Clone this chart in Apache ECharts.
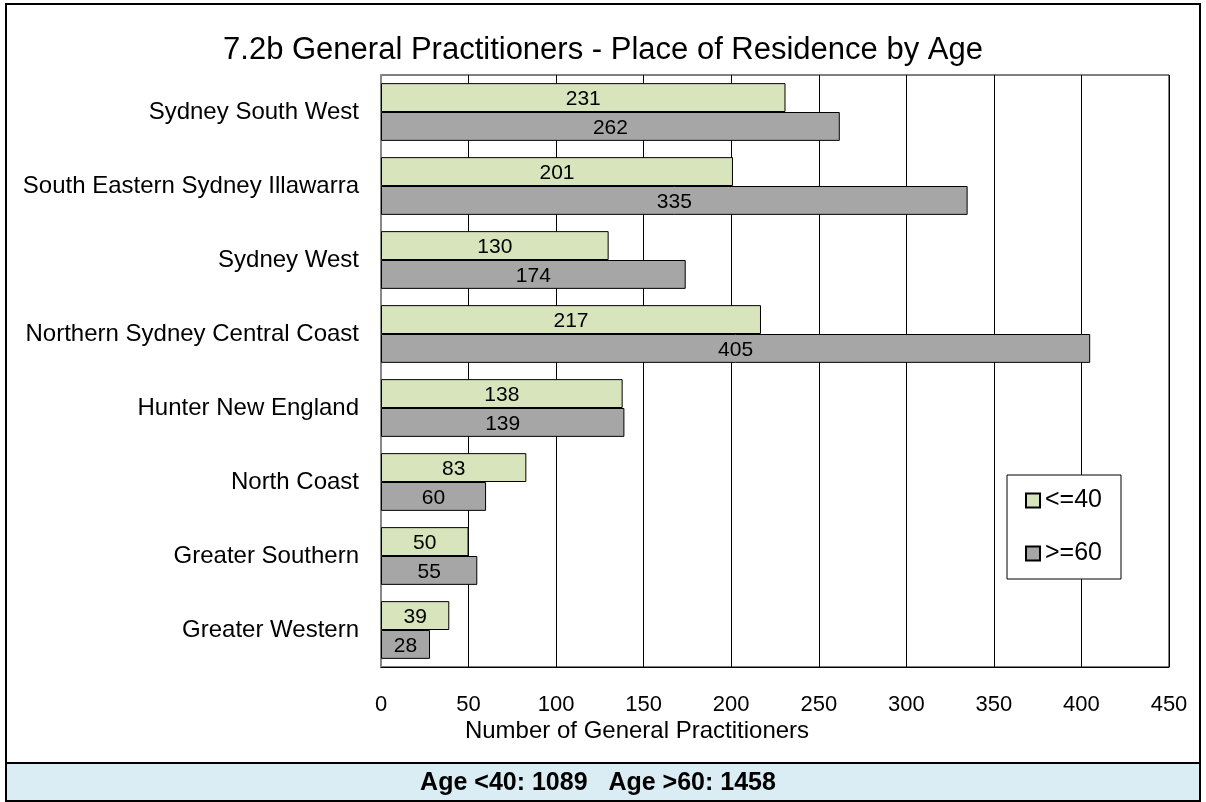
<!DOCTYPE html>
<html>
<head>
<meta charset="utf-8">
<script src="https://cdn.jsdelivr.net/npm/echarts@6/dist/echarts.min.js"></script>
<style>
  html, body { margin: 0; padding: 0; background: #fff; }
  #chart { width: 1206px; height: 802px; }
</style>
</head>
<body>
<div id="chart"></div>
<script>
// 数据
const regions = [
  "Sydney South West",
  "South Eastern Sydney Illawarra",
  "Sydney West",
  "Northern Sydney Central Coast",
  "Hunter New England",
  "North Coast",
  "Greater Southern",
  "Greater Western"
]
const under40 = [231, 201, 130, 217, 138, 83, 50, 39]
const over60 = [262, 335, 174, 405, 139, 60, 55, 28]
const xTicks = { min: 0, max: 450, step: 50 }
const footerText = "Age <40: 1089   Age >60: 1458"

const font = "Liberation Sans, Arial, sans-serif"
const myChart = echarts.init(document.getElementById("chart"))

const barLabel = {
  show: true,
  position: "inside",
  color: "#000",
  fontSize: 21,
  fontFamily: font,
  offset: [0, 2]
}

myChart.setOption({
  animation: false,
  title: {
    text: "7.2b General Practitioners - Place of Residence by Age",
    left: "center",
    top: 30,
    textStyle: { fontSize: 31, fontWeight: "normal", color: "#000", fontFamily: font }
  },
  grid: {
    left: 381, right: 37, top: 75, bottom: 135,
    show: true, borderColor: "#000", borderWidth: 1
  },
  legend: {
    orient: "vertical",
    left: 1007, top: 475,
    padding: [13, 19, 13, 18],
    itemGap: 28,
    itemWidth: 14, itemHeight: 14,
    icon: "rect",
    backgroundColor: "#fff",
    borderColor: "#000", borderWidth: 1,
    textStyle: { fontSize: 25, color: "#000", fontFamily: font }
  },
  xAxis: {
    type: "value",
    min: xTicks.min, max: xTicks.max, interval: xTicks.step,
    axisLine: { show: true, lineStyle: { color: "#000" } },
    axisTick: { show: false },
    axisLabel: { color: "#000", fontSize: 22, margin: 27, fontFamily: font },
    splitLine: { show: true, lineStyle: { color: "#000", width: 1 } }
  },
  yAxis: {
    type: "category",
    inverse: true,
    data: regions,
    axisLine: { show: true, lineStyle: { color: "#888", width: 2 } },
    axisTick: { show: false },
    axisLabel: { color: "#000", fontSize: 24, margin: 22, fontFamily: font }
  },
  series: [
    {
      name: "<=40", type: "bar", data: under40,
      barGap: "0%", barCategoryGap: "22%",
      itemStyle: { color: "#d8e4bc", borderColor: "#000", borderWidth: 1 },
      label: barLabel
    },
    {
      name: ">=60", type: "bar", data: over60,
      itemStyle: { color: "#a6a6a6", borderColor: "#000", borderWidth: 1 },
      label: barLabel
    }
  ],
  graphic: [
    {
      type: "rect", z: -1,
      shape: { x: 6, y: 763, width: 1194, height: 38 },
      style: { fill: "#daedf4" }
    },
    {
      type: "line",
      shape: { x1: 6, y1: 763, x2: 1200, y2: 763 },
      style: { stroke: "#000", lineWidth: 2 }
    },
    {
      type: "rect",
      shape: { x: 6, y: 4, width: 1194, height: 797 },
      style: { fill: null, stroke: "#000", lineWidth: 2 }
    },
    {
      type: "text",
      x: 637, y: 731,
      style: {
        text: "Number of General Practitioners",
        align: "center", verticalAlign: "middle",
        fontSize: 24, fill: "#000", fontFamily: font
      }
    },
    {
      type: "text",
      x: 598, y: 783,
      style: {
        text: footerText,
        align: "center", verticalAlign: "middle",
        fontSize: 25, fontWeight: "bold", fill: "#000", fontFamily: font
      }
    }
  ]
})
</script>
</body>
</html>
